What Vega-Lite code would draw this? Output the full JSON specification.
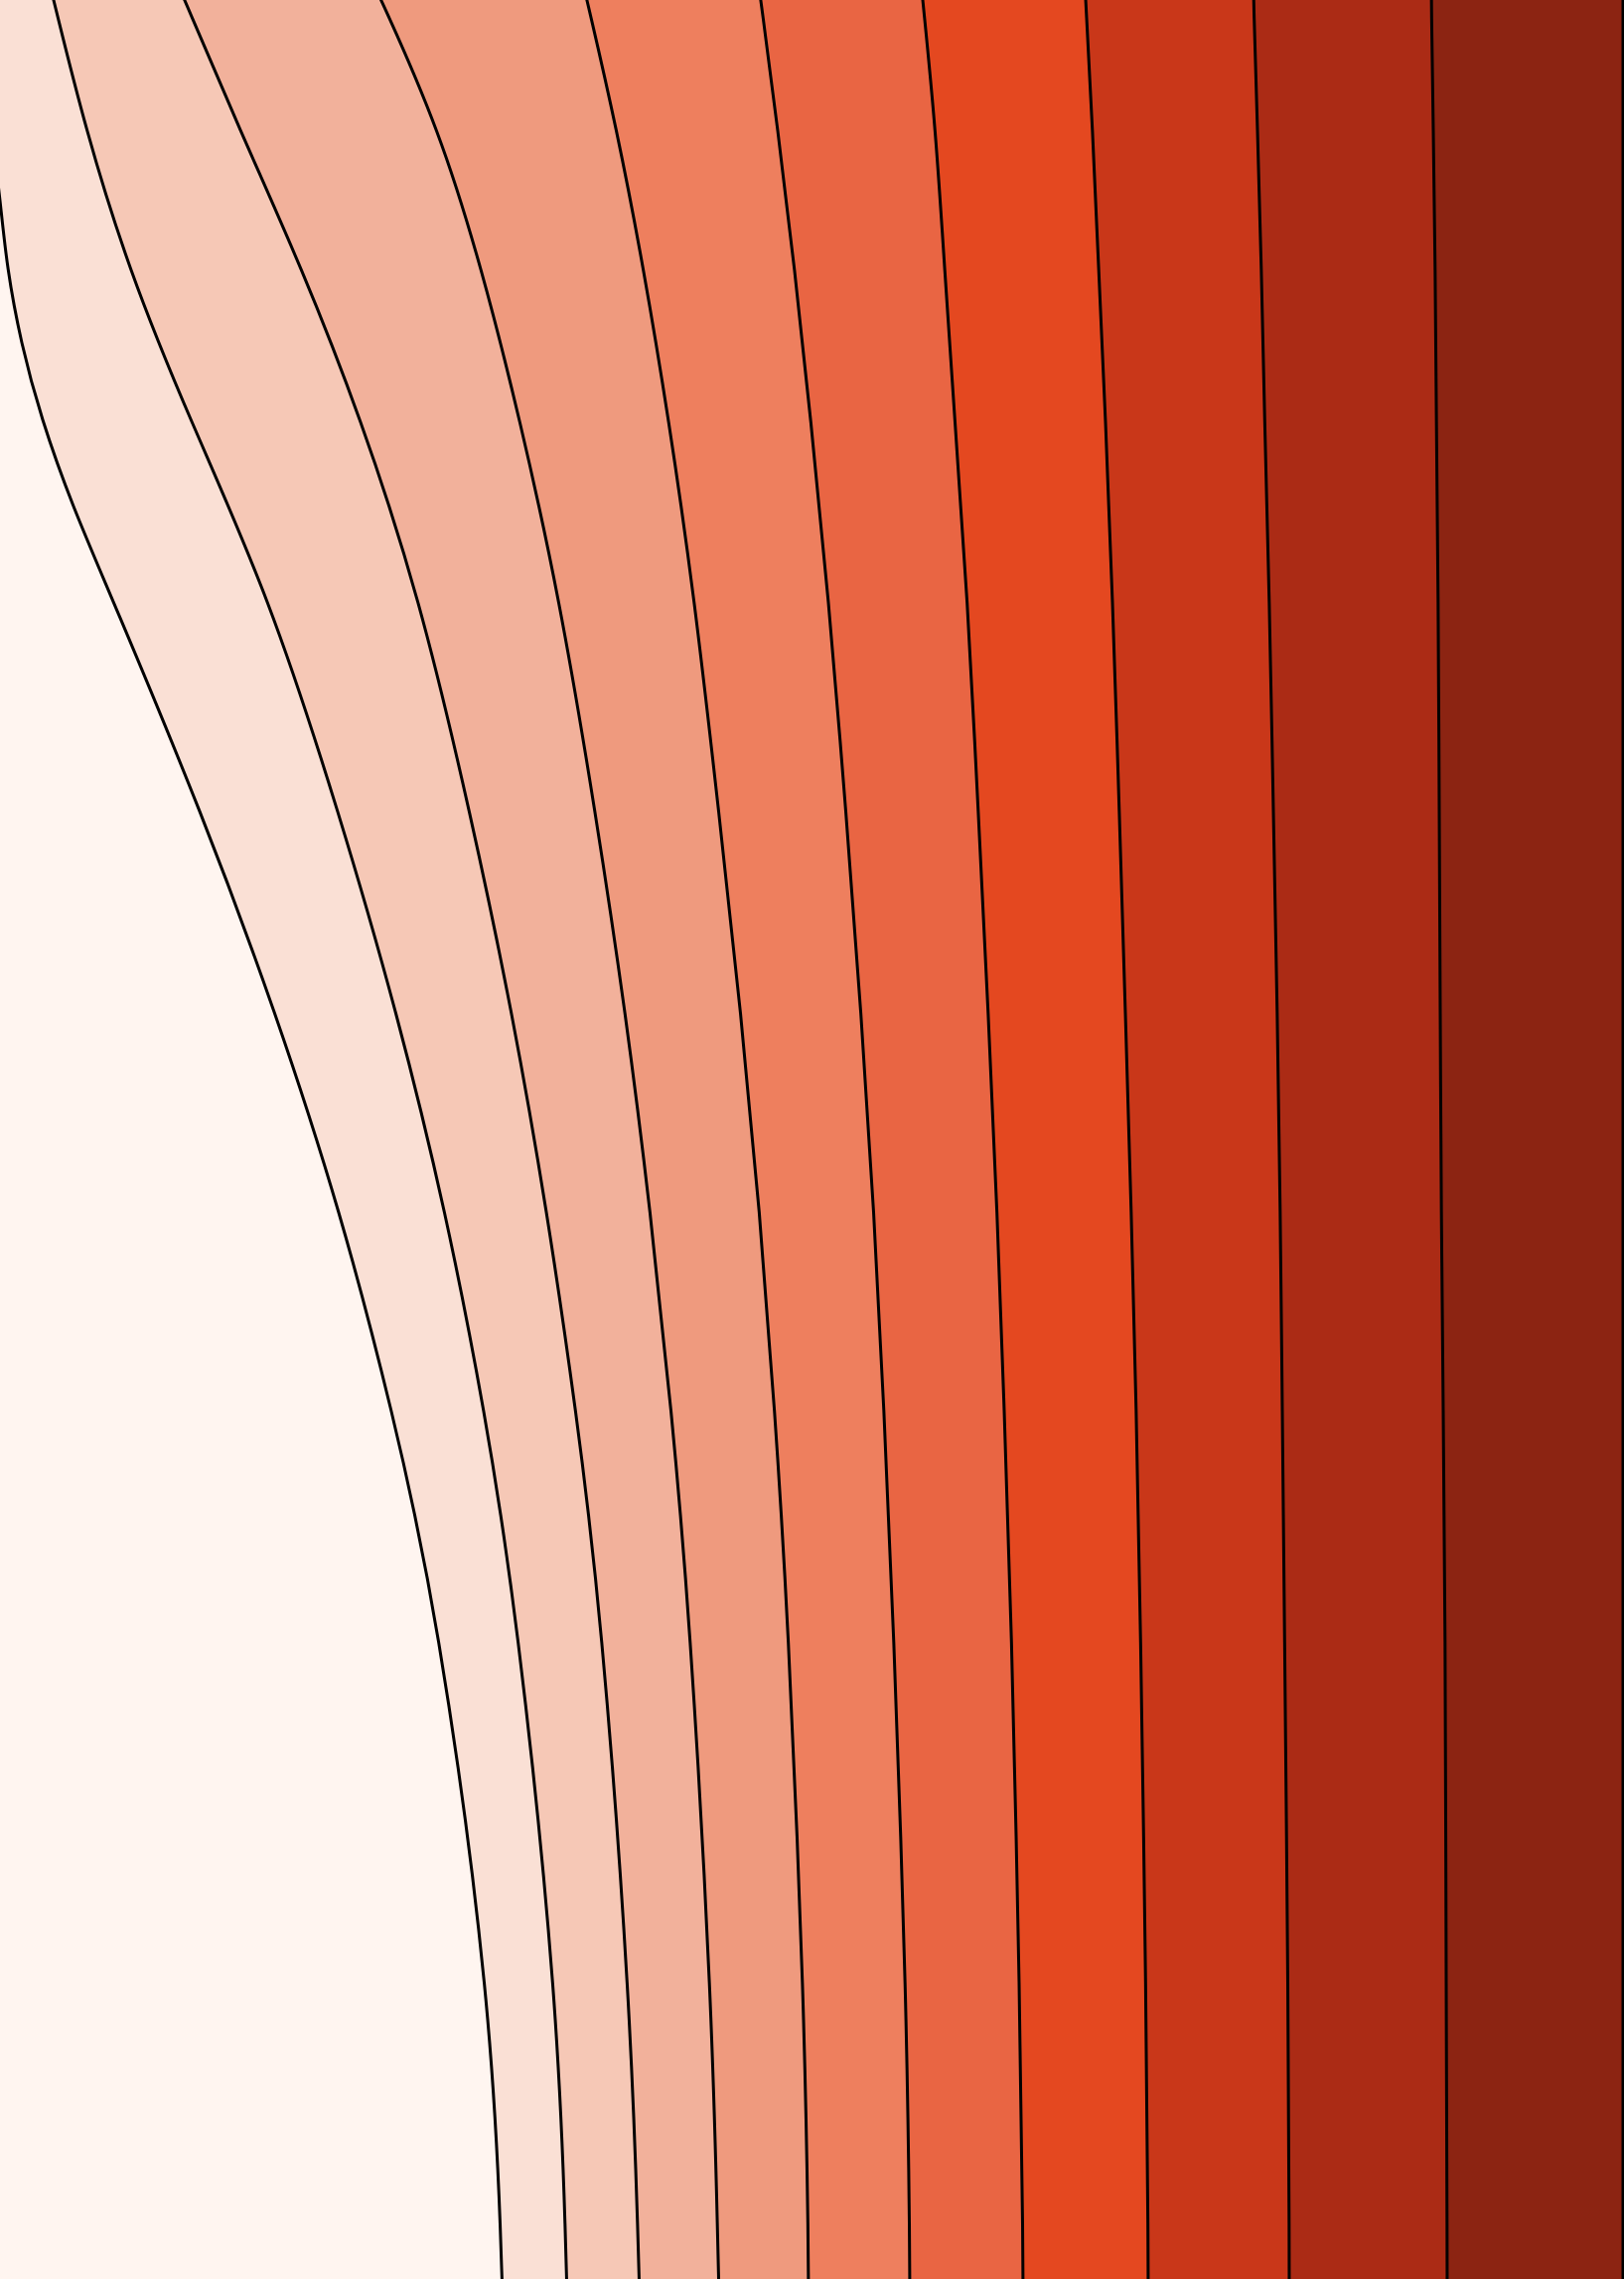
{
  "$schema": "https://vega.github.io/schema/vega-lite/v6.json",
  "width": 1635,
  "height": 2294,
  "padding": 0,
  "autosize": {"type": "fit", "contains": "padding"},
  "config": {"view": {"stroke": null}},
  "data": {"values": [
    {"c": 1, "y": 150, "x": -6}, {"c": 1, "y": 200, "x": 0}, {"c": 1, "y": 270, "x": 7}, {"c": 1, "y": 345, "x": 21}, {"c": 1, "y": 420, "x": 41}, {"c": 1, "y": 510, "x": 73}, {"c": 1, "y": 600, "x": 112}, {"c": 1, "y": 820, "x": 204}, {"c": 1, "y": 1020, "x": 278}, {"c": 1, "y": 1220, "x": 343}, {"c": 1, "y": 1420, "x": 395}, {"c": 1, "y": 1620, "x": 440}, {"c": 1, "y": 2020, "x": 495}, {"c": 1, "y": 2274, "x": 505}, {"c": 1, "y": 2314, "x": 506},
    {"c": 2, "y": -20, "x": 49}, {"c": 2, "y": 0, "x": 54}, {"c": 2, "y": 130, "x": 86}, {"c": 2, "y": 270, "x": 129}, {"c": 2, "y": 420, "x": 190}, {"c": 2, "y": 600, "x": 271}, {"c": 2, "y": 820, "x": 342}, {"c": 2, "y": 1020, "x": 400}, {"c": 2, "y": 1220, "x": 449}, {"c": 2, "y": 1420, "x": 488}, {"c": 2, "y": 1620, "x": 520}, {"c": 2, "y": 2020, "x": 562}, {"c": 2, "y": 2274, "x": 570}, {"c": 2, "y": 2314, "x": 571},
    {"c": 3, "y": -20, "x": 177}, {"c": 3, "y": 0, "x": 186}, {"c": 3, "y": 130, "x": 241}, {"c": 3, "y": 270, "x": 304}, {"c": 3, "y": 420, "x": 363}, {"c": 3, "y": 600, "x": 422}, {"c": 3, "y": 820, "x": 474}, {"c": 3, "y": 1020, "x": 516}, {"c": 3, "y": 1220, "x": 551}, {"c": 3, "y": 1420, "x": 580}, {"c": 3, "y": 1620, "x": 605}, {"c": 3, "y": 2020, "x": 635}, {"c": 3, "y": 2274, "x": 643}, {"c": 3, "y": 2314, "x": 644},
    {"c": 4, "y": -20, "x": 374}, {"c": 4, "y": 0, "x": 384}, {"c": 4, "y": 130, "x": 442}, {"c": 4, "y": 270, "x": 485}, {"c": 4, "y": 420, "x": 523}, {"c": 4, "y": 600, "x": 563}, {"c": 4, "y": 820, "x": 600}, {"c": 4, "y": 1020, "x": 630}, {"c": 4, "y": 1220, "x": 655}, {"c": 4, "y": 1420, "x": 676}, {"c": 4, "y": 1620, "x": 694}, {"c": 4, "y": 2020, "x": 717}, {"c": 4, "y": 2274, "x": 723}, {"c": 4, "y": 2314, "x": 724},
    {"c": 5, "y": -20, "x": 586}, {"c": 5, "y": 0, "x": 591}, {"c": 5, "y": 130, "x": 621}, {"c": 5, "y": 270, "x": 648}, {"c": 5, "y": 420, "x": 673}, {"c": 5, "y": 600, "x": 699}, {"c": 5, "y": 820, "x": 724}, {"c": 5, "y": 1020, "x": 746}, {"c": 5, "y": 1220, "x": 765}, {"c": 5, "y": 1420, "x": 780}, {"c": 5, "y": 1620, "x": 793}, {"c": 5, "y": 2020, "x": 810}, {"c": 5, "y": 2274, "x": 814}, {"c": 5, "y": 2314, "x": 814},
    {"c": 6, "y": -20, "x": 763}, {"c": 6, "y": 0, "x": 766}, {"c": 6, "y": 130, "x": 783}, {"c": 6, "y": 270, "x": 800}, {"c": 6, "y": 420, "x": 816}, {"c": 6, "y": 600, "x": 834}, {"c": 6, "y": 820, "x": 852}, {"c": 6, "y": 1020, "x": 867}, {"c": 6, "y": 1220, "x": 880}, {"c": 6, "y": 1420, "x": 890}, {"c": 6, "y": 1620, "x": 899}, {"c": 6, "y": 2020, "x": 913}, {"c": 6, "y": 2274, "x": 916}, {"c": 6, "y": 2314, "x": 916},
    {"c": 7, "y": -20, "x": 927}, {"c": 7, "y": 0, "x": 929}, {"c": 7, "y": 130, "x": 942}, {"c": 7, "y": 270, "x": 951}, {"c": 7, "y": 420, "x": 961}, {"c": 7, "y": 600, "x": 974}, {"c": 7, "y": 820, "x": 985}, {"c": 7, "y": 1020, "x": 995}, {"c": 7, "y": 1220, "x": 1004}, {"c": 7, "y": 1420, "x": 1011}, {"c": 7, "y": 1620, "x": 1018}, {"c": 7, "y": 2020, "x": 1027}, {"c": 7, "y": 2274, "x": 1030}, {"c": 7, "y": 2314, "x": 1030},
    {"c": 8, "y": -20, "x": 1092}, {"c": 8, "y": 0, "x": 1093}, {"c": 8, "y": 130, "x": 1100}, {"c": 8, "y": 270, "x": 1106}, {"c": 8, "y": 420, "x": 1113}, {"c": 8, "y": 600, "x": 1120}, {"c": 8, "y": 820, "x": 1127}, {"c": 8, "y": 1020, "x": 1133}, {"c": 8, "y": 1220, "x": 1139}, {"c": 8, "y": 1420, "x": 1144}, {"c": 8, "y": 1620, "x": 1148}, {"c": 8, "y": 2020, "x": 1154}, {"c": 8, "y": 2274, "x": 1156}, {"c": 8, "y": 2314, "x": 1156},
    {"c": 9, "y": -20, "x": 1262}, {"c": 9, "y": 0, "x": 1262}, {"c": 9, "y": 130, "x": 1266}, {"c": 9, "y": 270, "x": 1270}, {"c": 9, "y": 420, "x": 1273}, {"c": 9, "y": 600, "x": 1278}, {"c": 9, "y": 820, "x": 1282}, {"c": 9, "y": 1020, "x": 1286}, {"c": 9, "y": 1220, "x": 1289}, {"c": 9, "y": 1420, "x": 1291}, {"c": 9, "y": 1620, "x": 1293}, {"c": 9, "y": 2020, "x": 1297}, {"c": 9, "y": 2274, "x": 1298}, {"c": 9, "y": 2314, "x": 1298},
    {"c": 10, "y": -20, "x": 1441}, {"c": 10, "y": 0, "x": 1441}, {"c": 10, "y": 130, "x": 1443}, {"c": 10, "y": 270, "x": 1445}, {"c": 10, "y": 420, "x": 1446}, {"c": 10, "y": 600, "x": 1448}, {"c": 10, "y": 820, "x": 1449}, {"c": 10, "y": 1020, "x": 1450}, {"c": 10, "y": 1220, "x": 1451}, {"c": 10, "y": 1420, "x": 1453}, {"c": 10, "y": 1620, "x": 1455}, {"c": 10, "y": 2020, "x": 1456}, {"c": 10, "y": 2274, "x": 1457}, {"c": 10, "y": 2314, "x": 1457},
    {"c": 11, "y": -20, "x": 1634}, {"c": 11, "y": 2314, "x": 1634}
  ]},
  "encoding": {
    "x": {"field": "x", "type": "quantitative", "axis": null, "scale": {"domain": [0, 1635], "nice": false, "zero": false}},
    "y": {"field": "y", "type": "quantitative", "axis": null, "scale": {"domain": [0, 2294], "nice": false, "zero": false, "reverse": true}},
    "x2": {"datum": -60},
    "color": {"field": "c", "type": "ordinal", "legend": null, "scale": {"domain": [1, 2, 3, 4, 5, 6, 7, 8, 9, 10, 11], "range": ["#fff5f0", "#fae0d5", "#f6c8b6", "#f2b19b", "#ef9a7e", "#ee7f5e", "#e96543", "#e44820", "#c93719", "#ab2b15", "#8c2412"]}}
  },
  "layer": [
    {"transform": [{"filter": "datum.c == 11"}], "mark": {"type": "area", "orient": "horizontal", "interpolate": "basis", "stroke": "#000000", "strokeWidth": 3, "clip": true}},
    {"transform": [{"filter": "datum.c == 10"}], "mark": {"type": "area", "orient": "horizontal", "interpolate": "basis", "stroke": "#000000", "strokeWidth": 3, "clip": true}},
    {"transform": [{"filter": "datum.c == 9"}], "mark": {"type": "area", "orient": "horizontal", "interpolate": "basis", "stroke": "#000000", "strokeWidth": 3, "clip": true}},
    {"transform": [{"filter": "datum.c == 8"}], "mark": {"type": "area", "orient": "horizontal", "interpolate": "basis", "stroke": "#000000", "strokeWidth": 3, "clip": true}},
    {"transform": [{"filter": "datum.c == 7"}], "mark": {"type": "area", "orient": "horizontal", "interpolate": "basis", "stroke": "#000000", "strokeWidth": 3, "clip": true}},
    {"transform": [{"filter": "datum.c == 6"}], "mark": {"type": "area", "orient": "horizontal", "interpolate": "basis", "stroke": "#000000", "strokeWidth": 3, "clip": true}},
    {"transform": [{"filter": "datum.c == 5"}], "mark": {"type": "area", "orient": "horizontal", "interpolate": "basis", "stroke": "#000000", "strokeWidth": 3, "clip": true}},
    {"transform": [{"filter": "datum.c == 4"}], "mark": {"type": "area", "orient": "horizontal", "interpolate": "basis", "stroke": "#000000", "strokeWidth": 3, "clip": true}},
    {"transform": [{"filter": "datum.c == 3"}], "mark": {"type": "area", "orient": "horizontal", "interpolate": "basis", "stroke": "#000000", "strokeWidth": 3, "clip": true}},
    {"transform": [{"filter": "datum.c == 2"}], "mark": {"type": "area", "orient": "horizontal", "interpolate": "basis", "stroke": "#000000", "strokeWidth": 3, "clip": true}},
    {"transform": [{"filter": "datum.c == 1"}], "mark": {"type": "area", "orient": "horizontal", "interpolate": "basis", "stroke": "#000000", "strokeWidth": 3, "clip": true}}
  ]
}
